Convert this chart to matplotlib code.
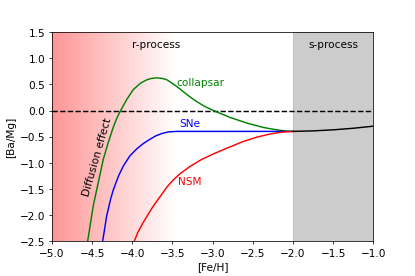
import matplotlib
matplotlib.use("Agg")
import matplotlib.pyplot as plt
import numpy as np

plt.rcParams['font.size'] = 11

# curves
collapsar_x = [-4.555, -4.485, -4.423, -4.36, -4.30, -4.236, -4.19, -4.144, -4.069, -3.987,
               -3.90, -3.82, -3.76, -3.695, -3.63, -3.571, -3.53, -3.446, -3.364, -3.28,
               -3.197, -3.10, -2.99, -2.782, -2.574, -2.367, -2.2, -2.075, -2.0]
collapsar_y = [-2.5, -1.82, -1.38, -0.93, -0.62, -0.32, -0.14, 0.0, 0.21, 0.40,
               0.52, 0.587, 0.615, 0.625, 0.615, 0.59, 0.55, 0.46, 0.36, 0.26,
               0.17, 0.08, 0.0, -0.133, -0.24, -0.325, -0.37, -0.395, -0.40]

sne_x = [-4.368, -4.318, -4.27, -4.236, -4.17, -4.11, -4.03, -3.945, -3.86, -3.779,
         -3.70, -3.62, -3.55, -3.45, -2.0]
sne_y = [-2.5, -2.016, -1.70, -1.52, -1.25, -1.06, -0.87, -0.735, -0.63, -0.55,
         -0.48, -0.435, -0.41, -0.40, -0.40]

nsm_x = [-3.974, -3.93, -3.862, -3.80, -3.738, -3.65, -3.571, -3.49, -3.405, -3.28,
         -3.14, -2.99, -2.82, -2.63, -2.45, -2.3, -2.15, -2.0]
nsm_y = [-2.5, -2.33, -2.14, -1.98, -1.83, -1.64, -1.47, -1.33, -1.21, -1.07,
         -0.94, -0.83, -0.72, -0.60, -0.51, -0.455, -0.415, -0.40]

sproc_x = [-2.0, -1.75, -1.5, -1.25, -1.0]
sproc_y = [-0.40, -0.39, -0.37, -0.34, -0.30]

fig = plt.figure(figsize=(6, 4), dpi=69.2)
ax = fig.add_axes([0.125, 0.126, 0.774, 0.755])

# red fading band for the r-process region
grad = np.zeros((1, 256, 4))
grad[0, :, 0] = 1.0
grad[0, :, 3] = np.linspace(0.42, 0.0, 256)
ax.imshow(grad, extent=[-5, -3.45, -2.5, 1.5], aspect='auto', zorder=0)

ax.axvspan(-2, -1, color='gray', alpha=0.4, zorder=0)
ax.axhline(0, color='k', ls='--', lw=1.5)

ax.plot(collapsar_x, collapsar_y, color='green', lw=1.5)
ax.plot(sne_x, sne_y, color='blue', lw=1.5)
ax.plot(nsm_x, nsm_y, color='red', lw=1.5)
ax.plot(sproc_x, sproc_y, color='k', lw=1.5)

ax.text(-3.7, 1.27, 'r-process', ha='center', va='center')
ax.text(-1.49, 1.27, 's-process', ha='center', va='center')
ax.text(-3.15, 0.55, 'collapsar', color='green', ha='center', va='center')
ax.text(-3.29, -0.24, 'SNe', color='blue', ha='center', va='center')
ax.text(-3.28, -1.345, 'NSM', color='red', ha='center', va='center')
ax.text(-4.433, -0.87, 'Diffusion effect', rotation=74, ha='center', va='center')

ax.set_xlim(-5, -1)
ax.set_ylim(-2.5, 1.5)
ax.set_xlabel('[Fe/H]')
ax.set_ylabel('[Ba/Mg]')

fig.savefig('out.png', dpi=69.2)
